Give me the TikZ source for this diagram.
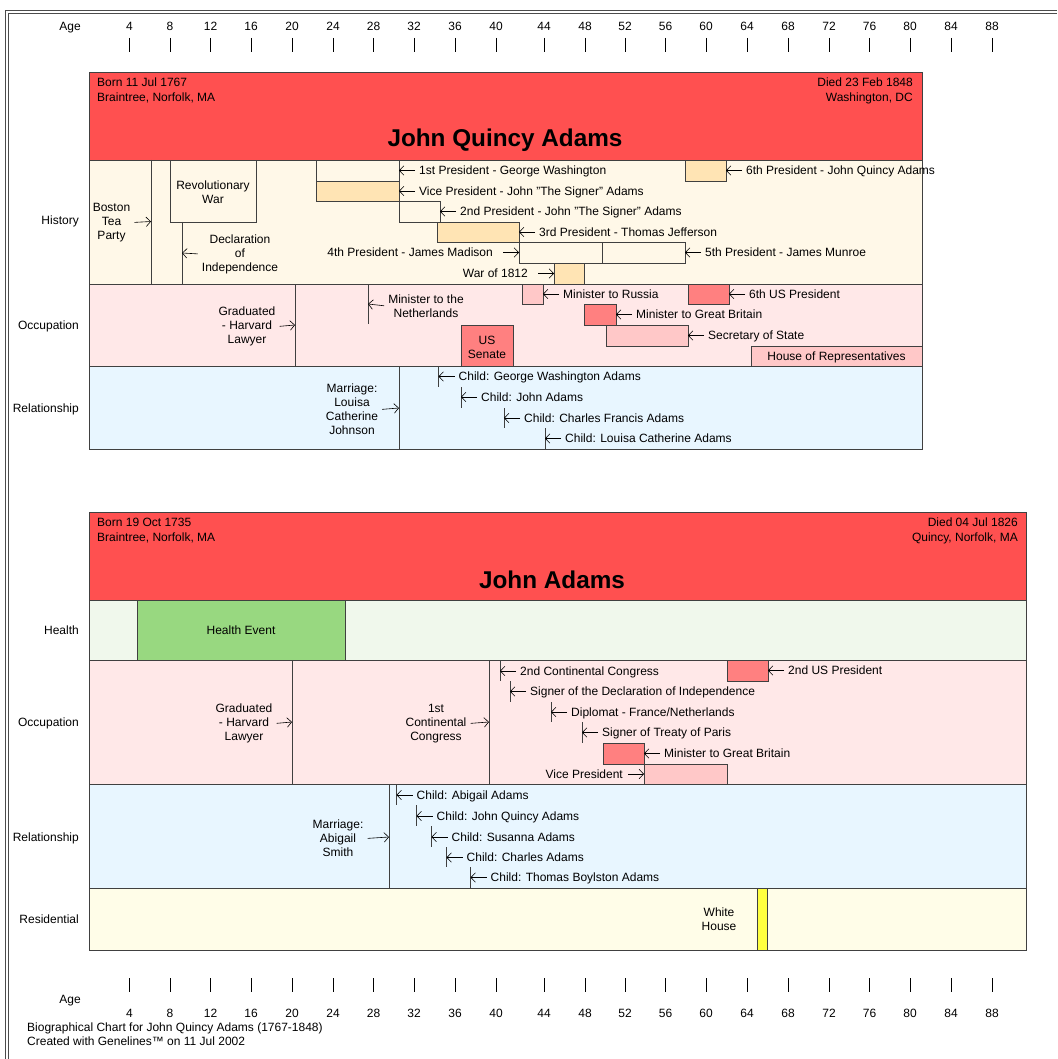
\documentclass[tikz,border=0pt]{standalone}
\usepackage{fontspec}
\setmainfont{Liberation Sans}
\usetikzlibrary{arrows.meta}
\definecolor{hdr}{HTML}{FF5050}
\definecolor{histc}{HTML}{FFF8E8}
\definecolor{peach}{HTML}{FFE4B4}
\definecolor{occc}{HTML}{FFE8E8}
\definecolor{salmon}{HTML}{FF8080}
\definecolor{pinkb}{HTML}{FFC8C8}
\definecolor{relc}{HTML}{E8F6FF}
\definecolor{healthc}{HTML}{F0F8EC}
\definecolor{greenb}{HTML}{98D880}
\definecolor{resc}{HTML}{FFFDE8}
\definecolor{yellowb}{HTML}{FFFF40}
\definecolor{edge}{HTML}{404040}
\newcommand\evbox[6]{\node[ebox,fill=#2,minimum width={(#5-#3)*1pt},minimum height={(#6-#4)*1pt}] (#1) at ({(#3+#5)/2},{(#4+#6)/2}) {};}
\begin{document}
\begin{tikzpicture}[x=1pt,y=-1pt,
  ebox/.style={draw=edge,line width=0.8pt,inner sep=0pt,outer sep=0pt,rectangle},
  stxt/.style={font=\fontsize{12}{14}\selectfont,inner sep=2pt,text height=8.6pt,text depth=0pt},
  ctxt/.style={font=\fontsize{12}{14}\selectfont,inner sep=2pt,align=center,yshift=-1.5pt},
  evl/.style={draw=edge,line width=0.8pt},
  arr/.style={draw=black,line width=0.6pt,-{Straight Barb[length=4.5pt,width=9.5pt]},shorten <=2pt},
  arrl/.style={draw=black,line width=0.6pt,-{Straight Barb[length=4.5pt,width=9.5pt]},shorten <=8pt},
  ttl/.style={font=\bfseries\fontsize{24.3}{28}\selectfont,inner sep=0pt},
  tick/.style={draw=black,line width=0.8pt},
  frame/.style={draw=black!70,line width=0.8pt}]
\useasboundingbox[fill=white] (0,0) rectangle (1057,1059);
% frame
\draw[frame] (5,1059) -- (5,10.5) -- (1057,10.5);
\draw[frame] (8,1059) -- (8,13) -- (1057,13);
% axes
\node[stxt] (ageT) at (70,26) {Age};
\node[stxt] (ageB) at (70,999) {Age};
\foreach \a/\x in {4/129.5,8/170,12/210.5,16/251,20/292,24/333,28/373.5,32/414,36/455,40/496,44/544,48/585,52/625,56/665.5,60/706,64/747,68/788,72/829,76/869.5,80/910,84/951,88/992}{
  \node[stxt] (ta\a) at (\x,26) {\a};
  \draw[tick] (\x,38) -- (\x,52);
  \draw[tick] (\x,978) -- (\x,992);
  \node[stxt] (ba\a) at (\x,1013) {\a};
}
% ================= John Quincy Adams =================
\evbox{hdrA}{hdr}{89}{72}{922}{160}
\node[stxt,anchor=west] (bornA) at (95,82) {Born 11 Jul 1767};
\node[stxt,anchor=west] (placeA) at (95,97) {Braintree, Norfolk, MA};
\node[stxt,anchor=east] (diedA) at (915,82) {Died 23 Feb 1848};
\node[stxt,anchor=east] (dplaceA) at (915,97) {Washington, DC};
\node[ttl] (titleA) at (505,140) {John Quincy Adams};
\evbox{histA}{histc}{89}{160}{922}{284}
\evbox{occA}{occc}{89}{284}{922}{366}
\evbox{relA}{relc}{89}{366}{922}{449}
\node[stxt,anchor=east] (lhA) at (81,220) {History};
\node[stxt,anchor=east] (loA) at (81,325) {Occupation};
\node[stxt,anchor=east] (lrA) at (81,408) {Relationship};
% history
\draw[evl] (151,160) -- (151,284);
\coordinate (bostonA) at (151,221.5);
\node[ctxt] (tBoston) at (111.5,221) {Boston\\Tea\\Party};
\draw[arr] (tBoston.east) -- (bostonA);
\evbox{revwar}{histc}{170}{160}{256}{222}
\node[ctxt] (tRev) at (revwar.center) {Revolutionary\\War};
\draw[evl] (182,222) -- (182,284);
\coordinate (declA) at (182,253);
\node[ctxt] (tDecl) at (240,252.5) {Declaration\\of\\Independence};
\draw[arr] (tDecl.west) -- (declA);
\evbox{p1}{histc}{316}{160}{399}{181}
\node[stxt,anchor=west] (tp1) at ([xshift=18pt]p1.east) {1st President - George Washington};
\draw[arr] (tp1.west) -- (p1.east);
\evbox{vp}{peach}{316}{181}{399}{201}
\node[stxt,anchor=west] (tvp) at ([xshift=18pt]vp.east) {Vice President - John "The Signer" Adams};
\draw[arr] (tvp.west) -- (vp.east);
\evbox{p2}{histc}{399}{201}{440}{222}
\node[stxt,anchor=west] (tp2) at ([xshift=18pt]p2.east) {2nd President - John "The Signer" Adams};
\draw[arr] (tp2.west) -- (p2.east);
\evbox{p3}{peach}{437}{222}{519}{242}
\node[stxt,anchor=west] (tp3) at ([xshift=18pt]p3.east) {3rd President - Thomas Jefferson};
\draw[arr] (tp3.west) -- (p3.east);
\evbox{p4}{histc}{519}{242}{602}{263}
\node[stxt,anchor=east] (tp4) at ([xshift=-24pt]p4.west) {4th President - James Madison};
\draw[arrl] (tp4.east) -- (p4.west);
\evbox{p5}{histc}{602}{242}{685}{263}
\node[stxt,anchor=west] (tp5) at ([xshift=18pt]p5.east) {5th President - James Munroe};
\draw[arr] (tp5.west) -- (p5.east);
\evbox{war}{peach}{554}{263}{584}{284}
\node[stxt,anchor=east] (twar) at ([xshift=-24pt]war.west) {War of 1812};
\draw[arrl] (twar.east) -- (war.west);
\evbox{p6}{peach}{685}{160}{726}{181}
\node[stxt,anchor=west] (tp6) at ([xshift=18pt]p6.east) {6th President - John Quincy Adams};
\draw[arr] (tp6.west) -- (p6.east);
% occupation
\draw[evl] (295,284) -- (295,366);
\coordinate (gradA) at (295,325);
\node[ctxt] (tGradA) at (247,325) {Graduated\\- Harvard\\Lawyer};
\draw[arr] (tGradA.east) -- (gradA);
\draw[evl] (368,284) -- (368,324);
\coordinate (nethA) at (368,304);
\node[ctxt] (tNeth) at (426,304.5) {Minister to the\\Netherlands};
\draw[arr] (tNeth.west) -- (nethA);
\evbox{senate}{salmon}{461}{325}{513}{366}
\node[ctxt] (tSenate) at (senate.center) {US\\Senate};
\evbox{russia}{pinkb}{522}{284}{543}{304}
\node[stxt,anchor=west] (trussia) at ([xshift=18pt]russia.east) {Minister to Russia};
\draw[arr] (trussia.west) -- (russia.east);
\evbox{pres6}{salmon}{688}{284}{729}{304}
\node[stxt,anchor=west] (tpres6) at ([xshift=18pt]pres6.east) {6th US President};
\draw[arr] (tpres6.west) -- (pres6.east);
\evbox{mgbA}{salmon}{584}{304}{616}{325}
\node[stxt,anchor=west] (tmgbA) at ([xshift=18pt]mgbA.east) {Minister to Great Britain};
\draw[arr] (tmgbA.west) -- (mgbA.east);
\evbox{sos}{pinkb}{606}{325}{688}{346}
\node[stxt,anchor=west] (tsos) at ([xshift=18pt]sos.east) {Secretary of State};
\draw[arr] (tsos.west) -- (sos.east);
\evbox{house}{pinkb}{751}{346}{922}{366}
\node[stxt] (thouse) at (house.center) {House of Representatives};
% relationship
\draw[evl] (399,366) -- (399,449);
\coordinate (marA) at (399,408);
\node[ctxt] (tMarA) at (352,408) {Marriage:\\Louisa\\Catherine\\Johnson};
\draw[arr] (tMarA.east) -- (marA);
\draw[evl] (438.5,366) -- (438.5,387);
\coordinate (c1A) at (438.5,376.5);
\node[stxt,anchor=west] (tc1A) at ([xshift=18pt]c1A) {Child: George Washington Adams};
\draw[arr] (tc1A.west) -- (c1A);
\draw[evl] (461,387) -- (461,408);
\coordinate (c2A) at (461,397);
\node[stxt,anchor=west] (tc2A) at ([xshift=18pt]c2A) {Child: John Adams};
\draw[arr] (tc2A.west) -- (c2A);
\draw[evl] (504,408) -- (504,428);
\coordinate (c3A) at (504,418);
\node[stxt,anchor=west] (tc3A) at ([xshift=18pt]c3A) {Child: Charles Francis Adams};
\draw[arr] (tc3A.west) -- (c3A);
\draw[evl] (545,428) -- (545,449);
\coordinate (c4A) at (545,438.5);
\node[stxt,anchor=west] (tc4A) at ([xshift=18pt]c4A) {Child: Louisa Catherine Adams};
\draw[arr] (tc4A.west) -- (c4A);
% ================= John Adams =================
\evbox{hdrB}{hdr}{89}{512}{1026}{600}
\node[stxt,anchor=west] (bornB) at (95,522) {Born 19 Oct 1735};
\node[stxt,anchor=west] (placeB) at (95,537) {Braintree, Norfolk, MA};
\node[stxt,anchor=east] (diedB) at (1020,522) {Died 04 Jul 1826};
\node[stxt,anchor=east] (dplaceB) at (1020,537) {Quincy, Norfolk, MA};
\node[ttl] (titleB) at (552,580) {John Adams};
\evbox{healB}{healthc}{89}{600}{1026}{660}
\evbox{occB}{occc}{89}{660}{1026}{784}
\evbox{relB}{relc}{89}{784}{1026}{888}
\evbox{resB}{resc}{89}{888}{1026}{950}
\node[stxt,anchor=east] (lhB) at (81,630) {Health};
\node[stxt,anchor=east] (loB) at (81,722) {Occupation};
\node[stxt,anchor=east] (lrB) at (81,837) {Relationship};
\node[stxt,anchor=east] (lsB) at (81,919) {Residential};
\evbox{healthev}{greenb}{137}{600}{345}{660}
\node[stxt] (thealth) at (healthev.center) {Health Event};
% occupation
\draw[evl] (292,660) -- (292,784);
\coordinate (gradB) at (292,722);
\node[ctxt] (tGradB) at (244,722) {Graduated\\- Harvard\\Lawyer};
\draw[arr] (tGradB.east) -- (gradB);
\draw[evl] (489,660) -- (489,784);
\coordinate (cc1) at (489,722);
\node[ctxt] (tcc1) at (436,722) {1st\\Continental\\Congress};
\draw[arr] (tcc1.east) -- (cc1);
\draw[evl] (500,660) -- (500,681);
\coordinate (cc2) at (500,671);
\node[stxt,anchor=west] (tcc2) at ([xshift=18pt]cc2) {2nd Continental Congress};
\draw[arr] (tcc2.west) -- (cc2);
\draw[evl] (510,681) -- (510,702);
\coordinate (sdi) at (510,691.5);
\node[stxt,anchor=west] (tsdi) at ([xshift=18pt]sdi) {Signer of the Declaration of Independence};
\draw[arr] (tsdi.west) -- (sdi);
\draw[evl] (551,702) -- (551,722);
\coordinate (dipl) at (551,712);
\node[stxt,anchor=west] (tdipl) at ([xshift=18pt]dipl) {Diplomat - France/Netherlands};
\draw[arr] (tdipl.west) -- (dipl);
\draw[evl] (582,722) -- (582,743);
\coordinate (stp) at (582,732.5);
\node[stxt,anchor=west] (tstp) at ([xshift=18pt]stp) {Signer of Treaty of Paris};
\draw[arr] (tstp.west) -- (stp);
\evbox{mgbB}{salmon}{603}{743}{644}{764}
\node[stxt,anchor=west] (tmgbB) at ([xshift=18pt]mgbB.east) {Minister to Great Britain};
\draw[arr] (tmgbB.west) -- (mgbB.east);
\evbox{vpB}{pinkb}{644}{764}{727}{784}
\node[stxt,anchor=east] (tvpB) at ([xshift=-19pt]vpB.west) {Vice President};
\draw[draw=black,line width=0.6pt,-{Straight Barb[length=4.5pt,width=9.5pt]},shorten <=3pt] (tvpB.east) -- (vpB.west);
\evbox{pres2}{salmon}{727}{660}{768}{681}
\node[stxt,anchor=west] (tpres2) at ([xshift=18pt]pres2.east) {2nd US President};
\draw[arr] (tpres2.west) -- (pres2.east);
% relationship
\draw[evl] (389,784) -- (389,888);
\coordinate (marB) at (389,837);
\node[ctxt] (tMarB) at (338,837) {Marriage:\\Abigail\\Smith};
\draw[arr] (tMarB.east) -- (marB);
\draw[evl] (396.5,784) -- (396.5,805);
\coordinate (c1B) at (396.5,795);
\node[stxt,anchor=west] (tc1B) at ([xshift=18pt]c1B) {Child: Abigail Adams};
\draw[arr] (tc1B.west) -- (c1B);
\draw[evl] (416.5,805) -- (416.5,826);
\coordinate (c2B) at (416.5,816);
\node[stxt,anchor=west] (tc2B) at ([xshift=18pt]c2B) {Child: John Quincy Adams};
\draw[arr] (tc2B.west) -- (c2B);
\draw[evl] (431.5,826) -- (431.5,847);
\coordinate (c3B) at (431.5,837);
\node[stxt,anchor=west] (tc3B) at ([xshift=18pt]c3B) {Child: Susanna Adams};
\draw[arr] (tc3B.west) -- (c3B);
\draw[evl] (446.5,847) -- (446.5,867);
\coordinate (c4B) at (446.5,857.5);
\node[stxt,anchor=west] (tc4B) at ([xshift=18pt]c4B) {Child: Charles Adams};
\draw[arr] (tc4B.west) -- (c4B);
\draw[evl] (470.5,867) -- (470.5,888);
\coordinate (c5B) at (470.5,877.5);
\node[stxt,anchor=west] (tc5B) at ([xshift=18pt]c5B) {Child: Thomas Boylston Adams};
\draw[arr] (tc5B.west) -- (c5B);
% residential
\evbox{whb}{yellowb}{757}{888}{767}{950}
\node[ctxt] (twh) at (719,918) {White\\House};
% footer
\node[stxt,anchor=west] (foot1) at (25,1027) {Biographical Chart for John Quincy Adams (1767-1848)};
\node[stxt,anchor=west] (foot2) at (25,1041) {Created with Genelines™ on 11 Jul 2002};
\end{tikzpicture}
\end{document}
